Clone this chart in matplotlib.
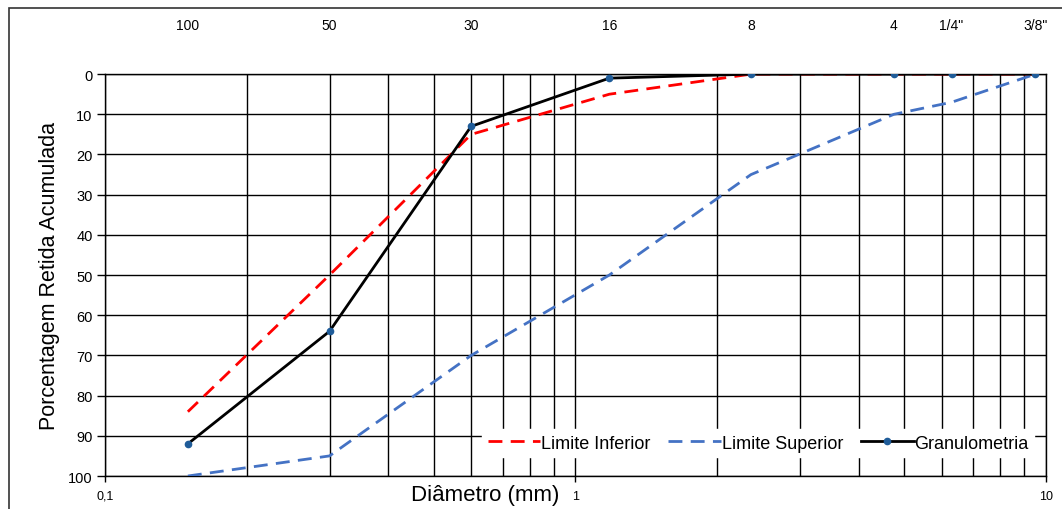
import matplotlib.pyplot as plt
from matplotlib.patches import Rectangle
from matplotlib.ticker import FixedLocator, NullFormatter

plt.rcParams['font.family'] = ['Liberation Sans', 'DejaVu Sans']

# sieve openings (mm) and their names
sieve_mm = [0.15, 0.3, 0.6, 1.18, 2.36, 4.75, 6.3, 9.5]
sieve_names = ['100', '50', '30', '16', '8', '4', '1/4"', '3/8"']

# % retained (cumulative)
limite_inferior = [84, 50, 15, 5, 0, 0, 0, 0]
limite_superior = [100, 95, 70, 50, 25, 10, 7, 0]
granulometria = [92, 64, 13, 1, 0, 0, 0, 0]

fig = plt.figure(figsize=(10.62, 5.10), dpi=100)
ax = fig.add_axes([0.0989, 0.0647, 0.886, 0.788])

ax.plot(sieve_mm, limite_inferior, color='#FF0000', linestyle=(0, (5, 3)), linewidth=2,
        label='Limite Inferior', zorder=3)
ax.plot(sieve_mm, limite_superior, color='#4472C4', linestyle=(0, (5, 3)), linewidth=2,
        label='Limite Superior', zorder=3)
ax.plot(sieve_mm, granulometria, color='black', linewidth=2, marker='o', markersize=4.5,
        markerfacecolor='#1F5C99', markeredgecolor='#1F5C99', label='Granulometria', zorder=4)

ax.set_xscale('log')
ax.set_xlim(0.1, 10)
ax.set_ylim(100, 0)
ax.set_yticks(range(0, 101, 10))
ax.xaxis.set_major_locator(FixedLocator([0.1, 1, 10]))
ax.set_xticklabels(['0,1', '1', '10'], fontsize=9)
minors = [m * d for d in (0.1, 1) for m in range(2, 10)]
ax.xaxis.set_minor_locator(FixedLocator(minors))
ax.xaxis.set_minor_formatter(NullFormatter())
ax.tick_params(axis='x', which='major', length=4, width=1, pad=6)
ax.tick_params(axis='x', which='minor', length=0)
ax.tick_params(axis='y', length=6, width=1, labelsize=10.5, pad=3)

ax.grid(True, which='both', axis='x', color='black', linewidth=1)
ax.grid(True, which='major', axis='y', color='black', linewidth=1)
ax.set_axisbelow(True)
for s in ax.spines.values():
    s.set_linewidth(1)

ax.set_xlabel('Diâmetro (mm)', fontsize=16)
ax.xaxis.set_label_coords(0.404, -0.045)
ax.xaxis.label.set_verticalalignment('center')
ax.set_ylabel('Porcentagem Retida Acumulada', fontsize=15.5, labelpad=6)

# sieve numbers on top
top = ax.secondary_xaxis('top')
top.xaxis.set_major_locator(FixedLocator(sieve_mm))
top.xaxis.set_minor_locator(FixedLocator([]))
top.set_xticklabels(sieve_names, fontsize=10)
top.tick_params(length=0, pad=30)
top.spines['top'].set_visible(False)

leg = ax.legend(loc='lower right', bbox_to_anchor=(0.997, 0.025), ncol=3, fontsize=13,
                frameon=True, fancybox=False, framealpha=1, edgecolor='white',
                handlelength=2.9, handletextpad=0.05, columnspacing=1.0, borderpad=0.3)

fig.patches.append(Rectangle((9 / 1062, -0.05), 1.2, 1 - 9 / 510 + 0.05,
                             transform=fig.transFigure, fill=False,
                             edgecolor='#333333', linewidth=1.2))

fig.savefig('out.png', dpi=100)
